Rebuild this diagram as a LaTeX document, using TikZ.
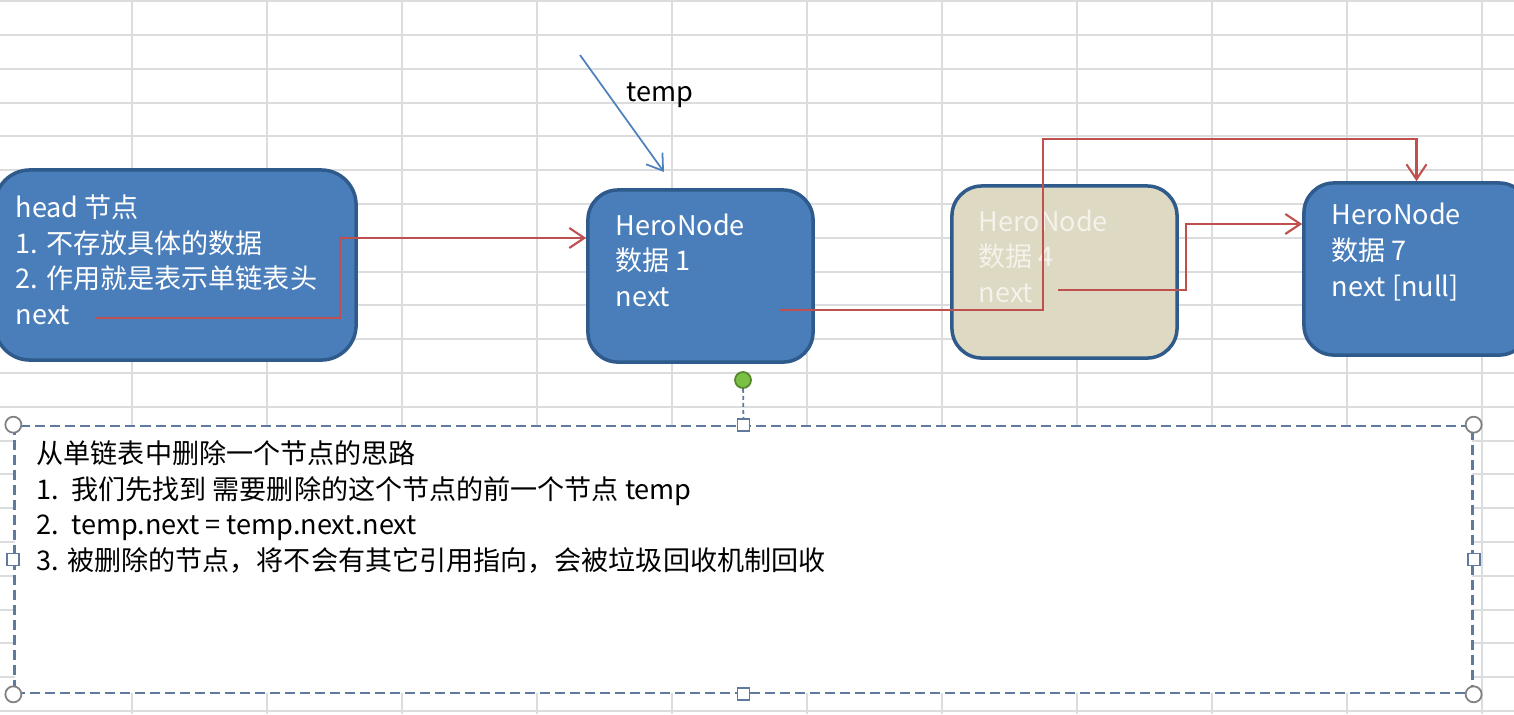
\documentclass[tikz,border=0pt]{standalone}
\usepackage{fontspec}
\setmainfont{Noto Sans CJK SC}
\usepackage{xcolor}
\usetikzlibrary{arrows.meta}

\definecolor{boxblue}{HTML}{4A7EBB}
\definecolor{boxedge}{HTML}{2F5B8C}
\definecolor{boxtan}{HTML}{DDD9C3}
\definecolor{tantext}{HTML}{F4F2EA}
\definecolor{linkred}{HTML}{C0504D}
\definecolor{pointblue}{HTML}{4F81BD}
\definecolor{gridgray}{HTML}{DADCDE}
\definecolor{noteedge}{HTML}{5F7A9E}
\definecolor{rotgreen}{HTML}{7AC143}

\begin{document}
\begin{tikzpicture}[x=0.01cm, y=-0.01cm,
    hero/.style={rectangle, draw=boxedge, line width=1pt, fill=boxblue, rounded corners=0.3cm, minimum width=2.25cm, minimum height=1.72cm, inner sep=0pt},
    herotext/.style={anchor=west, align=left, inner sep=0pt, text=white, font=\fontsize{7.7}{10.1}\selectfont},
    link/.style={-{Straight Barb[length=1.5mm,width=2mm]}, color=linkred, line width=0.6pt},
    pointer/.style={-{Straight Barb[length=1.5mm,width=2mm]}, color=pointblue, line width=0.5pt},
    gridline/.style={gridgray, line width=0.6pt},
    notebox/.style={rectangle, draw=noteedge, fill=white, dash pattern=on 0.1cm off 0.05cm, line width=0.7pt, minimum width=14.57cm, minimum height=2.67cm, inner sep=0pt},
    rhandle/.style={circle, draw=gray, fill=white, line width=0.5pt, minimum size=0.16cm, inner sep=0pt},
    shandle/.style={rectangle, draw=noteedge, fill=white, line width=0.5pt, minimum size=0.12cm, inner sep=0pt}
]
    \useasboundingbox (0,0) rectangle (1514,714);
    \clip (0,0) rectangle (1514,714);

    % Sheet grid
    \foreach \i in {0,...,11}
        \draw[gridline] ({-3+135*\i},0) -- ({-3+135*\i},714);
    \foreach \j in {0,...,21}
        \draw[gridline] (0,{1.2+33.8*\j}) -- (1514,{1.2+33.8*\j});

    % Linked list nodes
    \node[hero, minimum width=3.61cm, minimum height=1.9cm, rounded corners=0.35cm] (head) at (175.5,265) {};
    \node[hero] (n1) at (700.5,276) {};
    \node[hero, fill=boxtan] (n4) at (1064.5,272) {};
    \node[hero] (n7) at (1416.5,269) {};

    \node[herotext] (headtext) at (15,260) {head 节点\\1. 不存放具体的数据\\2. 作用就是表示单链表头\\next};
    \node[herotext] (n1text) at (615,260) {HeroNode\\数据 1\\next};
    \node[herotext, text=tantext] (n4text) at (978,256) {HeroNode\\数据 4\\next};
    \node[herotext] (n7text) at (1331,252) {HeroNode\\数据 7\\next [null]};

    % Pointer: temp
    \coordinate (tempstart) at (580,55);
    \coordinate (tempend) at (664,172);
    \draw[pointer] (tempstart) -- (tempend);
    \node[herotext, text=black] (templabel) at (626,95) {temp};

    % Arrows: next links
    \coordinate (headnext) at (96,318);
    \coordinate (n1next) at (780,310);
    \coordinate (n4next) at (1058,290);
    \draw[link] (headnext) -- ++(244,0) |- ([yshift=0.38cm]n1.west);
    \draw[link] (n1next) -- ++(263,0) -- ++(0,-171) -| (n7.north);
    \draw[link] (n4next) -- ++(128,0) |- ([yshift=0.45cm]n7.west);

    % Note: how to delete a node
    \node[notebox] (note) at (743.5,559.5) {};
    \node[herotext, text=black] (notetext) at (36,507) {从单链表中删除一个节点的思路\\1.\ \ 我们先找到 需要删除的这个节点的前一个节点 temp\\2.\ \ temp.next = temp.next.next\\3. 被删除的节点，将不会有其它引用指向，会被垃圾回收机制回收};

    % Selection handles
    \foreach \a/\n in {north west/nw, north east/ne, south west/sw, south east/se}
        \node[rhandle] (h\n) at (note.\a) {};
    \foreach \a/\n in {north/n, south/s, west/w, east/e}
        \node[shandle] (h\n) at (note.\a) {};
    \node[circle, draw=rotgreen!70!black, fill=rotgreen, line width=0.5pt, minimum size=0.16cm, inner sep=0pt] (rot) at (743,380) {};
    \draw[noteedge, dash pattern=on 0.04cm off 0.03cm, line width=0.5pt] (rot) -- (hn);
\end{tikzpicture}
\end{document}
